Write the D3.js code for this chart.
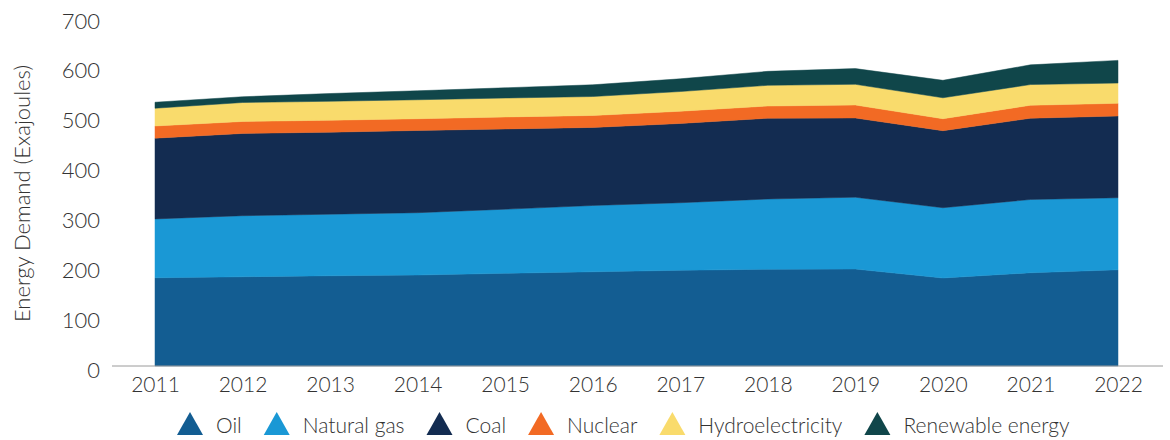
<!DOCTYPE html>
<html>
<head>
<meta charset="utf-8">
<script src="https://cdn.jsdelivr.net/npm/d3@7"></script>
<style>
  body { margin: 0; background: #fff; }
  svg text { font-family: Lato, "Open Sans", sans-serif; font-weight: 300; fill: #333; }
</style>
</head>
<body>
<div id="chart"></div>
<script>
// years and energy demand by source (EJ)
const years = [2011, 2012, 2013, 2014, 2015, 2016, 2017, 2018, 2019, 2020, 2021, 2022];
const oil = [177, 179, 181, 182.5, 186, 189, 192, 194, 194.5, 176.5, 187, 193];
const naturalGas = [118, 122.5, 123.5, 125, 128.5, 133, 135.5, 141, 144, 141, 147, 144.5];
const coal = [162, 165, 164.5, 165, 161, 156.5, 159, 162, 159, 154.5, 163, 164];
const nuclear = [24.5, 24, 24, 23.5, 24, 24, 24.5, 24.5, 26, 24, 26, 25.5];
const hydro = [35.5, 38, 38, 38, 38, 38, 39.5, 41.5, 41.5, 42, 41.5, 40.5];
const renewable = [12, 11.5, 15.5, 18, 20.5, 23.5, 25.5, 28, 31.5, 35, 39.5, 45.5];

const seriesNames = ['Oil', 'Natural gas', 'Coal', 'Nuclear', 'Hydroelectricity', 'Renewable energy'];
const seriesKeys = ['oil', 'gas', 'coal', 'nuclear', 'hydro', 'renew'];
const colors = ['#135d92', '#1a98d5', '#132c51', '#f26a24', '#f9db6c', '#10464a'];
const yTicks = [0, 100, 200, 300, 400, 500, 600, 700];

const w = 1170, h = 440;

const rows = years.map((y, i) => ({
    year: y, oil: oil[i], gas: naturalGas[i], coal: coal[i],
    nuclear: nuclear[i], hydro: hydro[i], renew: renewable[i]
}));

const stacked = d3.stack().keys(seriesKeys)(rows);

const xScale = d3.scaleLinear()
                .domain([d3.min(years), d3.max(years)])
                .range([155, 1118]);

const yScale = d3.scaleLinear()
                .domain([0, 700])
                .range([366, 17]);

const svg = d3.select('#chart')
              .append('svg')
              .attr('width', w)
              .attr('height', h);

const area = d3.area()
               .x(d => xScale(d.data.year))
               .y0(d => yScale(d[0]))
               .y1(d => yScale(d[1]));

svg.selectAll('path.layer')
   .data(stacked)
   .enter()
   .append('path')
   .attr('class', 'layer')
   .attr('d', area)
   .attr('fill', (d, i) => colors[i])
   .attr('stroke', (d, i) => colors[i])
   .attr('stroke-width', 0.5);

// x axis: plain grey line, no ticks
const xAxis = d3.axisBottom(xScale)
                .tickValues(years)
                .tickFormat(d3.format('d'))
                .tickSize(0)
                .tickPadding(11);

const gx = svg.append('g')
   .attr('transform', 'translate(0,' + yScale(0) + ')')
   .call(xAxis);
gx.select('.domain').remove();
gx.selectAll('text').style('font-size', '21px').attr('fill', '#333');
svg.append('line')
   .attr('x1', 112).attr('x2', 1163)
   .attr('y1', yScale(0)).attr('y2', yScale(0))
   .attr('stroke', '#9a9a9a')
   .attr('stroke-width', 1);

const yAxis = d3.axisLeft(yScale)
                .tickValues(yTicks)
                .tickSize(0)
                .tickPadding(0);

const gy = svg.append('g')
   .attr('transform', 'translate(100,0)')
   .call(yAxis);
gy.select('.domain').remove();
gy.selectAll('text')
  .style('font-size', '22px')
  .attr('fill', '#333')
  .attr('dy', '0.5em');

svg.append('text')
   .attr('transform', 'translate(30,' + ((yScale(0) + yScale(700)) / 2 + 2) + ') rotate(-90)')
   .attr('text-anchor', 'middle')
   .style('font-size', '22px')
   .text('Energy Demand (Exajoules)');

// legend with triangle markers
const legend = svg.append('g').attr('class', 'legend');
let lx = 177;
seriesNames.forEach((name, i) => {
    const g = legend.append('g').attr('transform', 'translate(' + lx + ',0)');
    g.append('path')
     .attr('d', 'M0,435 L13,412 L26,435 Z')
     .attr('fill', colors[i]);
    const t = g.append('text')
     .attr('x', 39)
     .attr('y', 433)
     .style('font-size', '21px')
     .text(name);
    lx += 39 + t.node().getComputedTextLength() + 22;
});
</script>
</body>
</html>
